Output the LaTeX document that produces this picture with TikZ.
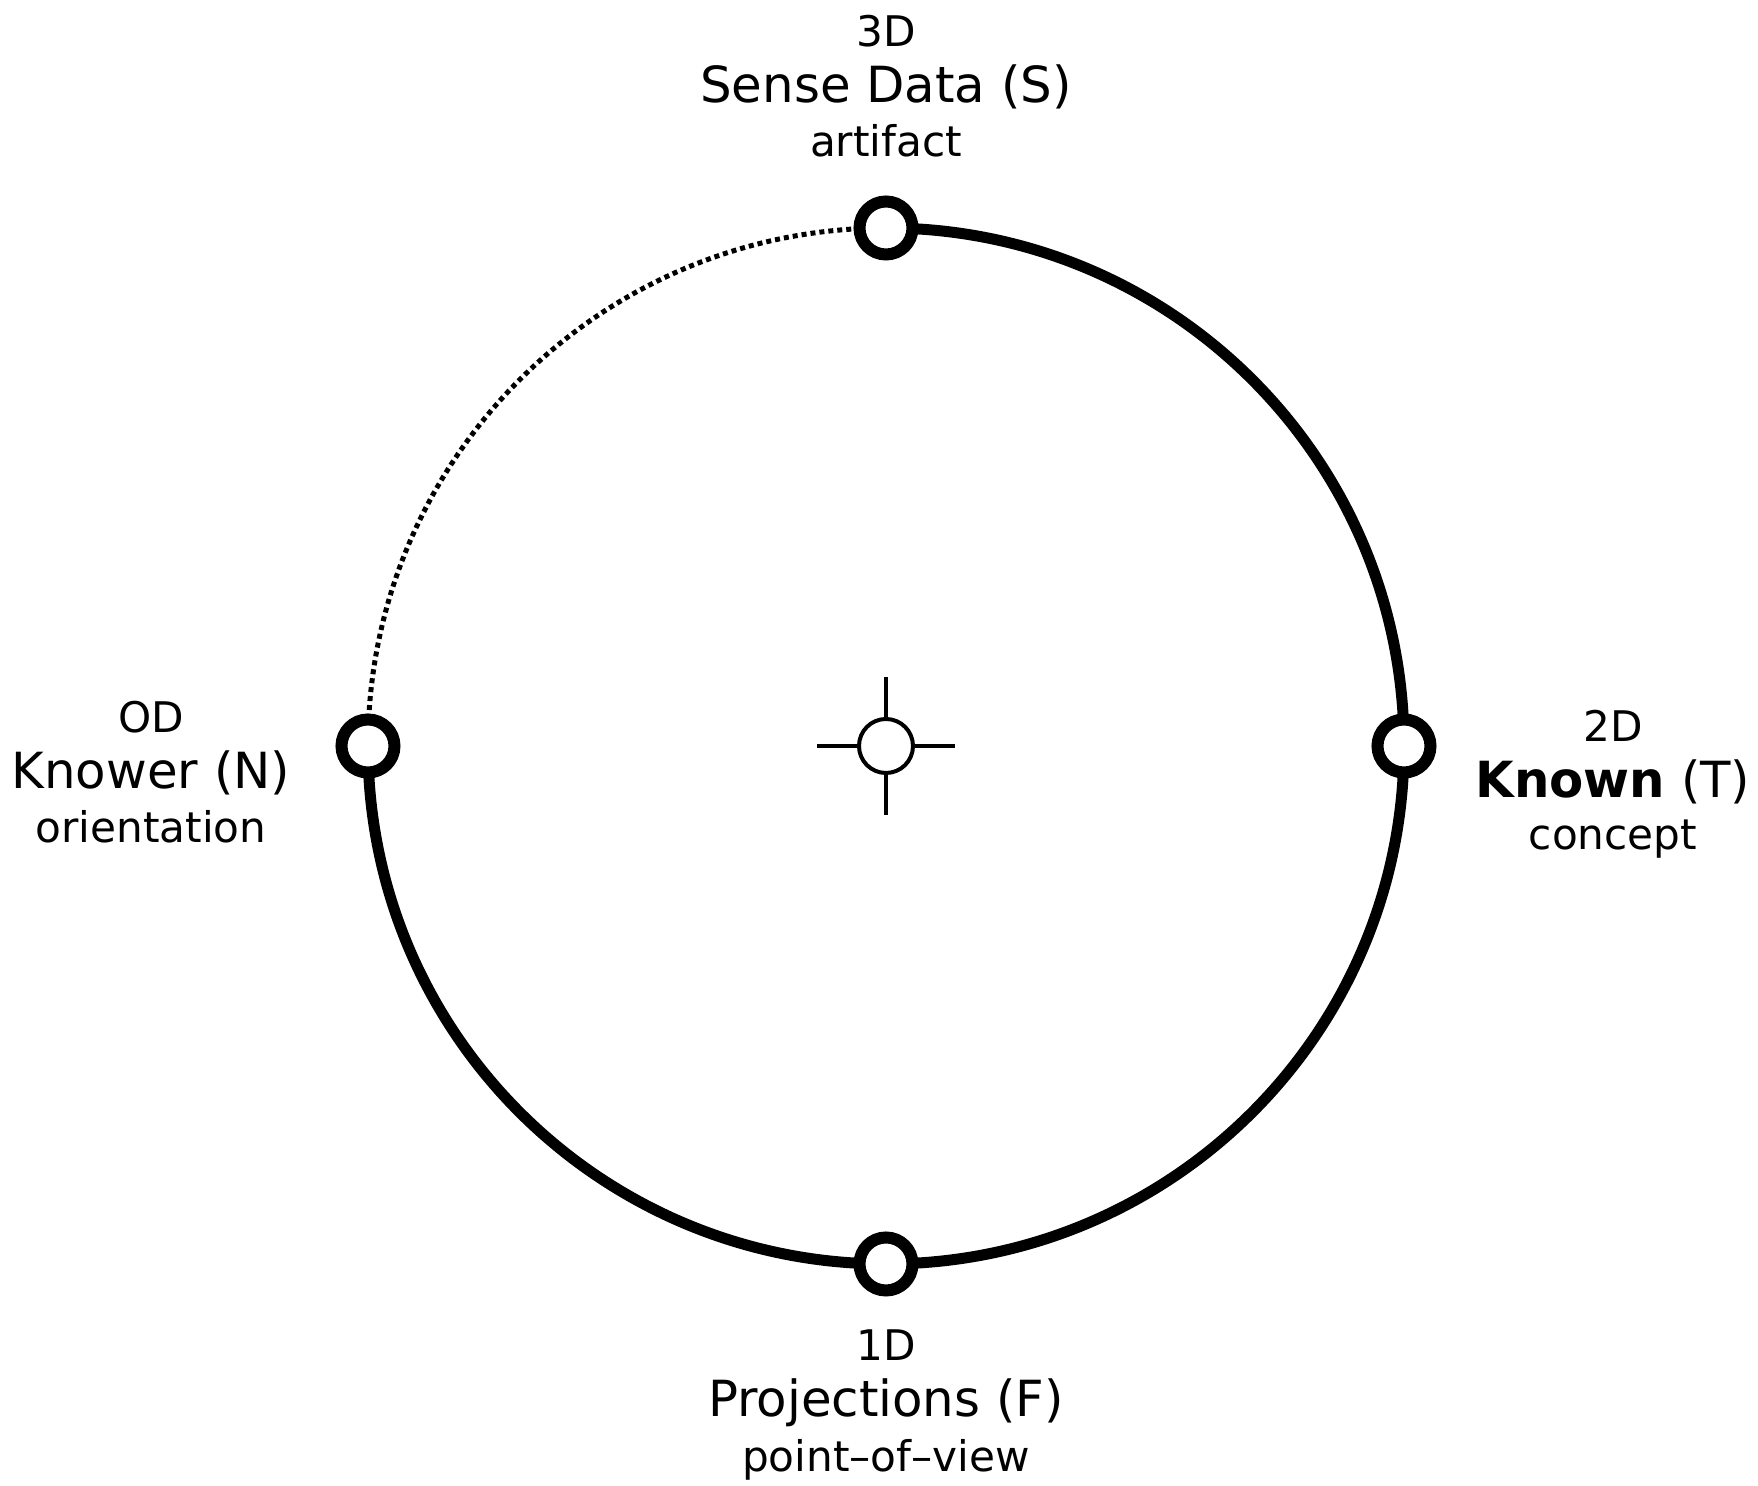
\documentclass[tikz,border=0pt]{standalone}
\usepackage{fontspec}
\setmainfont{DejaVu Sans}
\usepackage{tikz}
\usetikzlibrary{positioning}

\begin{document}
\begin{tikzpicture}[
    x=0.5pt, y=0.5pt,
    port/.style   ={circle, draw=black, fill=white, line width=6pt, minimum size=26.5pt, inner sep=0pt},
    hub/.style    ={circle, draw=black, fill=white, line width=2pt, minimum size=27pt, inner sep=0pt},
    rim/.style    ={draw=black, line width=5.5pt},
    dotrim/.style ={draw=black, line width=2.5pt, dash pattern=on 2.5pt off 2pt},
    tick/.style   ={draw=black, line width=2pt},
    dimlab/.style ={anchor=base, font=\fontsize{21.1}{24}\selectfont},
    namelab/.style={anchor=base, font=\fontsize{24.9}{28}\selectfont},
  ]
  \useasboundingbox (-886,-740) rectangle (872,746);
  % ---- four points on the circle ----
  \def\R{518}
  \coordinate (S) at (90:\R);
  \coordinate (T) at (0:\R);
  \coordinate (F) at (270:\R);
  \coordinate (N) at (180:\R);

  % ---- rim: solid from S round to N, dotted N back to S ----
  \draw[rim]    (S) arc[start angle=90,  end angle=-180, radius=259pt];
  \draw[dotrim] (N) arc[start angle=180, end angle=90,   radius=259pt];

  \node[port] (sense)  at (S) {};
  \node[port] (known)  at (T) {};
  \node[port] (proj)   at (F) {};
  \node[port] (knower) at (N) {};

  % ---- centre mark ----
  \node[hub] (origin) at (0,0) {};
  \draw[tick] (origin.north) -- ++(0,40);
  \draw[tick] (origin.south) -- ++(0,-40);
  \draw[tick] (origin.east)  -- ++(40,0);
  \draw[tick] (origin.west)  -- ++(-40,0);

  % ---- labels ----
  \node[dimlab]  (sdim)  at (0,699) {3D};
  \node[namelab] (sname) at (0,643) {Sense Data (S)};
  \node[dimlab]  (srole) at (0,589) {artifact};

  \node[dimlab]  (ndim)  at (-735,13)  {OD};
  \node[namelab] (nname) at (-735,-43) {Knower (N)};
  \node[dimlab]  (nrole) at (-735,-97) {orientation};

  \node[dimlab]  (tdim)  at (727,4)    {2D};
  \node[namelab] (tname) at (727,-52)  {\textbf{Known} (T)};
  \node[dimlab]  (trole) at (727,-104) {concept};

  \node[dimlab]  (fdim)  at (0,-615) {1D};
  \node[namelab] (fname) at (0,-671) {Projections (F)};
  \node[dimlab]  (frole) at (0,-726) {point–of–view};
\end{tikzpicture}
\end{document}
